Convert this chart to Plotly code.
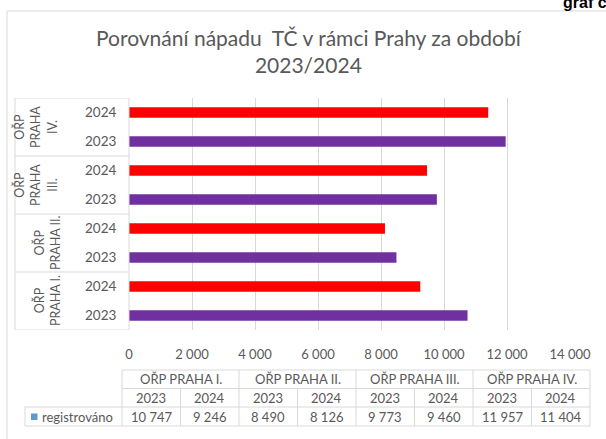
import plotly.graph_objects as go

# ---------------- data ----------------
groups = ["OŘP PRAHA I.", "OŘP PRAHA II.", "OŘP PRAHA III.", "OŘP PRAHA IV."]
group_labels_wrapped = ["OŘP<br>PRAHA I.", "OŘP<br>PRAHA II.", "OŘP<br>PRAHA<br>III.", "OŘP<br>PRAHA<br>IV."]
years = ["2023", "2024"]
values_2023 = [10747, 8490, 9773, 11957]
values_2024 = [9246, 8126, 9460, 11404]
x_ticks = [0, 2000, 4000, 6000, 8000, 10000, 12000, 14000]
series_name = "registrováno"
title_text = "Porovnání nápadu \u00a0TČ v rámci Prahy za období<br>2023/2024"
corner_text = "graf č. 1"

# ---------------- styles ----------------
year_colors = {"2023": "#7030A0", "2024": "#FF0000"}
legend_color = "#5B9BD5"
text_color = "#595959"
grid_color = "#D9D9D9"
FONT = "Lato, Open Sans, sans-serif"

W, H = 606, 439
L, R, T, B = 129, 570, 98, 330


def px(x):
    return (x - L) / (R - L)


def py(y):
    return (B - y) / (B - T)


# categories in bottom-to-top order
categories, values, colors, ticktext = [], [], [], []
for g, v23, v24 in zip(groups, values_2023, values_2024):
    for yr, v in zip(years, (v23, v24)):
        categories.append(f"{g} {yr}")
        values.append(v)
        colors.append(year_colors[yr])
        ticktext.append(yr)

fig = go.Figure()
fig.add_trace(go.Bar(
    y=categories, x=values, orientation="h",
    marker=dict(color=colors, line=dict(width=0)),
    width=0.36, name=series_name, showlegend=False,
    hoverinfo="x+y",
))

shapes = []
annotations = []
line_style = dict(color=grid_color, width=1)

# chart area border
shapes.append(dict(type="rect", xref="paper", yref="paper",
                   x0=px(7), x1=px(640), y0=py(470), y1=py(11),
                   line=line_style, fillcolor="rgba(0,0,0,0)", layer="below"))

# category box on left
n = len(categories)
boundaries = [-0.5 + 2 * i for i in range(len(groups) + 1)]
for b in boundaries:
    shapes.append(dict(type="line", xref="paper", yref="y",
                       x0=px(15), x1=0, y0=b, y1=b, line=line_style))
for xv in (px(15), 0):
    shapes.append(dict(type="line", xref="paper", yref="y",
                       x0=xv, x1=xv, y0=-0.5, y1=n - 0.5, line=line_style))

# group labels (rotated); centre depends on number of wrapped lines
for i, lab in enumerate(group_labels_wrapped):
    nlines = lab.count("<br>") + 1
    xc = 35 if nlines == 3 else 47
    annotations.append(dict(
        text=lab, xref="paper", yref="y", x=px(xc), y=2 * i + 0.5,
        xanchor="center", yanchor="middle", textangle=-90, showarrow=False,
        align="center", font=dict(family=FONT, size=12.5, color=text_color)))

# ---------------- data table ----------------
t_left, col_w = 122, 58.5
t_right = t_left + 8 * col_w
rows_y = [370, 388.5, 407, 426]
leg_left = 25

def hline(y, x0, x1):
    shapes.append(dict(type="line", xref="paper", yref="paper",
                       x0=px(x0), x1=px(x1), y0=py(y), y1=py(y), line=line_style))

def vline(x, y0, y1):
    shapes.append(dict(type="line", xref="paper", yref="paper",
                       x0=px(x), x1=px(x), y0=py(y0), y1=py(y1), line=line_style))

hline(rows_y[0], t_left, t_right)
hline(rows_y[1], t_left, t_right)
hline(rows_y[2], leg_left, t_right)
hline(rows_y[3], leg_left, t_right)
vline(leg_left, rows_y[2], rows_y[3])
for k in range(len(groups) + 1):
    vline(t_left + 2 * k * col_w, rows_y[0], rows_y[3])
for k in range(len(groups)):
    vline(t_left + (2 * k + 1) * col_w, rows_y[1], rows_y[3])

tfont = dict(family=FONT, size=13, color=text_color)
def cell_text(txt, xc, yc, anchor="center"):
    annotations.append(dict(text=txt, xref="paper", yref="paper",
                            x=px(xc), y=py(yc), xanchor=anchor, yanchor="middle",
                            showarrow=False, font=tfont))

for k, g in enumerate(groups):
    cell_text(g, t_left + (2 * k + 1) * col_w, (rows_y[0] + rows_y[1]) / 2)
col = 0
for k, g in enumerate(groups):
    for yr, v in zip(years, (values_2023[k], values_2024[k])):
        xc = t_left + (col + 0.5) * col_w
        cell_text(yr, xc, (rows_y[1] + rows_y[2]) / 2)
        cell_text(f"{v:,}".replace(",", "\u00a0"), xc, (rows_y[2] + rows_y[3]) / 2)
        col += 1

# legend key in table
ym = (rows_y[2] + rows_y[3]) / 2
shapes.append(dict(type="rect", xref="paper", yref="paper",
                   x0=px(31), x1=px(37.5), y0=py(ym + 3.5), y1=py(ym - 3),
                   fillcolor=legend_color, line=dict(width=0)))
cell_text(series_name, 40, ym, anchor="left")

# title
annotations.append(dict(text=title_text, xref="paper", yref="paper",
                        x=px(309), y=py(51.5), xanchor="center", yanchor="middle",
                        showarrow=False, align="center",
                        font=dict(family=FONT, size=21, color=text_color)))
# corner caption (cut off at top)
annotations.append(dict(text=f"<b>{corner_text}</b>", xref="paper", yref="paper",
                        x=px(561), y=py(13), xanchor="left", yanchor="bottom",
                        showarrow=False,
                        font=dict(family="Liberation Sans, Arial, sans-serif", size=16, color="#000000")))

fig.update_layout(
    width=W, height=H,
    margin=dict(l=L, r=W - R, t=T, b=H - B, pad=0),
    paper_bgcolor="white", plot_bgcolor="white",
    separators=", ",
    font=dict(family=FONT, color=text_color, size=13),
    shapes=shapes, annotations=annotations,
    bargap=0.6,
    xaxis=dict(range=[0, 14000], tickvals=x_ticks, tickformat=",d",
               showgrid=True, gridcolor=grid_color, gridwidth=1,
               zeroline=False, showline=False,
               ticks="outside", ticklen=12, tickcolor="rgba(0,0,0,0)",
               tickfont=dict(family=FONT, size=13, color=text_color), fixedrange=True),
    yaxis=dict(type="category", categoryorder="array", categoryarray=categories,
               range=[-0.5, n - 0.5], tickmode="array", tickvals=categories, ticktext=ticktext,
               showgrid=False, zeroline=False, showline=False,
               ticks="outside", ticklen=9, tickcolor="rgba(0,0,0,0)",
               tickfont=dict(family=FONT, size=13.5, color=text_color), fixedrange=True),
    showlegend=False,
)

fig.write_html("out.html", config={"displayModeBar": False},
               post_script="document.body.style.margin='0';")
